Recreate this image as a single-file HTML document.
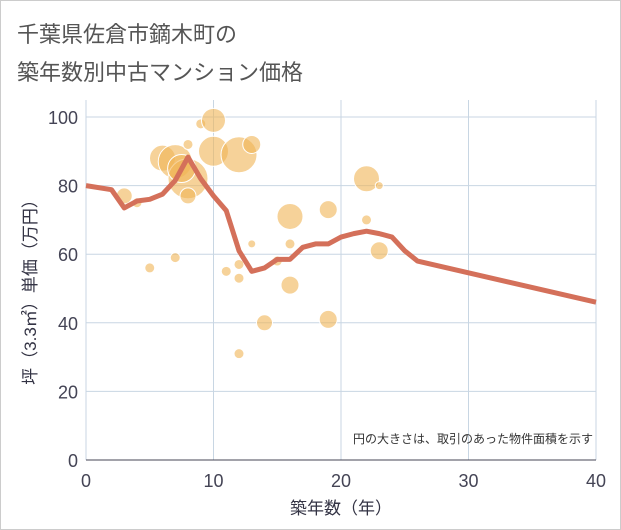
<!DOCTYPE html>
<html><head><meta charset="utf-8"><style>
body{margin:0;background:#fff;font-family:"Liberation Sans","Noto Sans CJK JP",sans-serif;}
#wrap{position:relative;width:619px;height:528px;border:1px solid #ccc;background:#fff;}
.t{position:absolute;left:16px;font-size:22px;color:#555;white-space:nowrap;}
</style></head><body>
<div id="wrap">
<div class="t" style="top:16px">千葉県佐倉市鏑木町の</div>
<div class="t" style="top:54px">築年数別中古マンション価格</div>
<svg id="chart" width="621" height="530" style="position:absolute;left:-1px;top:-1px"></svg>
</div>
<script>
const xTicks=[0,10,20,30,40];
const yTicks=[0,20,40,60,80,100];
const lineX=[0,2,3,4,5,6,7,8,9,10,11,12,13,14,15,16,17,18,19,20,21,22,23,24,25,26,40];
const lineY=[80,78.8,73.5,75.5,76,77.5,81.5,88.3,82,77,72.7,61,55,56,58.5,58.5,62,63,63,65,66,66.7,66,65,61,58,46];
const bubX=[3,4,5,6,7,7,8,8,8,9,10,10,12,13,7.5,11,12,12,13,12,14,16,16,16,15,19,19,22,22,23,23];
const bubY=[77,75,56,88,87,59,92,82,77,98,99,90,89,92,85,55,53,57,63,31,40,71,63,51,58,73,41,82,70,80,61];
const bubR=[8,5,5,13,17,5,5,20,8,5,12,15,18,9,14,5,5,5,4,5,8,13,5,9,5,9,9,13,5,4,9];
const X0=86,X1=596,Y0=460,Y1=117;
const sx=v=>X0+(X1-X0)*v/40, sy=v=>Y0-(Y0-Y1)*v/100;
const svg=document.getElementById('chart');const NS='http://www.w3.org/2000/svg';
function mk(t,a,p){const e=document.createElementNS(NS,t);for(const k in a)e.setAttribute(k,a[k]);(p||svg).appendChild(e);return e;}
const grid=mk('g',{});


for(const v of xTicks){const l=mk('line',{x1:sx(v),x2:sx(v),y1:Y1-17,y2:Y0,stroke:'#c8d6e3','stroke-width':1},grid);


const t=mk('text',{x:sx(v),y:Y0+27,'text-anchor':'middle','font-size':18,fill:'#445'});t.textContent=v;

}
for(const v of yTicks){const l=mk('line',{x1:X0,x2:X1,y1:sy(v),y2:sy(v),stroke:'#c8d6e3','stroke-width':1},grid);


const t=mk('text',{x:X0-8,y:sy(v)+7,'text-anchor':'end','font-size':18,fill:'#445'});t.textContent=v;

}
mk('line',{x1:X0,x2:X1,y1:Y0,y2:Y0,stroke:'#445','stroke-width':1});
for(let i=0;i<bubX.length;i++){const c=mk('circle',{cx:sx(bubX[i]),cy:sy(bubY[i]),r:bubR[i],fill:'#f0b455','fill-opacity':0.6,stroke:'#fff','stroke-width':1});

}
const p=mk('polyline',{points:lineX.map((x,i)=>sx(x)+','+sy(lineY[i])).join(' '),fill:'none',stroke:'#d4705a','stroke-width':5,'stroke-linejoin':'round'});


const n=mk('text',{x:593,y:443,'text-anchor':'end','font-size':12,fill:'#333'});n.textContent='円の大きさは、取引のあった物件面積を示す';


const xt=mk('text',{x:341,y:514,'text-anchor':'middle','font-size':17,fill:'#334'});xt.textContent='築年数（年）';


const yt=mk('text',{x:0,y:0,'text-anchor':'middle','font-size':17,fill:'#334',transform:'translate(36,288) rotate(-90)'});yt.textContent='坪（3.3㎡）単価（万円）';


</script>
</body></html>
